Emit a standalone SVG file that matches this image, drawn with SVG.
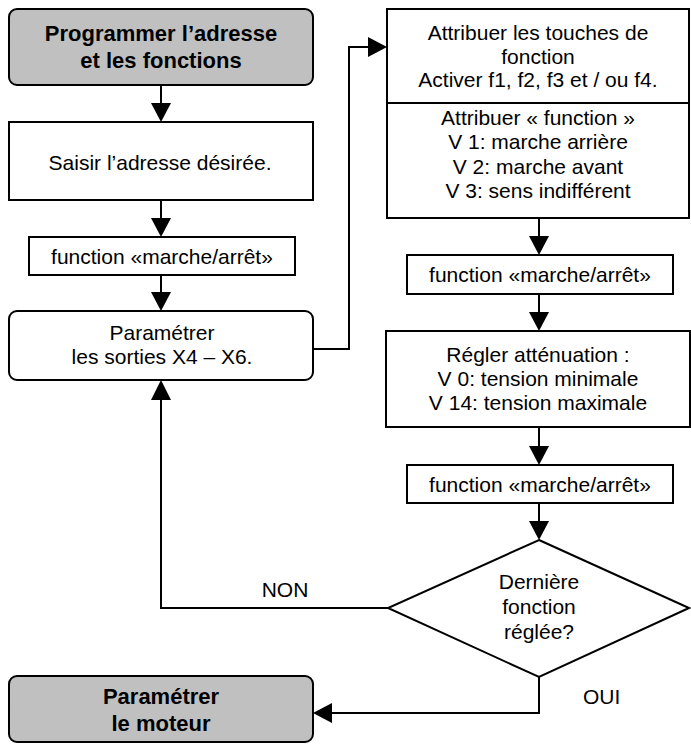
<svg xmlns="http://www.w3.org/2000/svg" width="691" height="746" viewBox="0 0 691 746">
<style>
.box{fill:#fff;stroke:#000;stroke-width:2}
.term{fill:#c0c0c0;stroke:#000;stroke-width:2}
.t{font-family:"Liberation Sans",Arial,sans-serif;font-size:21px;fill:#000;text-anchor:middle}
.b{font-weight:bold;font-size:22px}
.l{text-anchor:start}
.c{fill:none;stroke:#000;stroke-width:2}
.ah{fill:#000}
</style>
<g id="n1">
<rect class="term" x="9" y="9" width="304" height="76" rx="8"/>
<text class="t b" x="161" y="41">Programmer l’adresse</text>
<text class="t b" x="161" y="68">et les fonctions</text>
</g>
<g id="n2">
<rect class="box" x="9" y="122" width="304" height="78"/>
<text class="t" x="160" y="170">Saisir l’adresse désirée.</text>
</g>
<g id="n3">
<rect class="box" x="29" y="237" width="266" height="38"/>
<text class="t" x="162" y="264">function «marche/arrêt»</text>
</g>
<g id="n4">
<rect class="box" x="9" y="311" width="304" height="69" rx="8"/>
<text class="t" x="162" y="340">Paramétrer</text>
<text class="t" x="162" y="364">les sorties X4 – X6.</text>
</g>
<g id="n5">
<rect class="box" x="387" y="9" width="302" height="209"/>
<line class="c" x1="387" y1="103" x2="689" y2="103"/>
<text class="t" x="538" y="40">Attribuer les touches de</text>
<text class="t" x="538" y="63.5">fonction</text>
<text class="t" x="538" y="87">Activer f1, f2, f3 et / ou f4.</text>
<text class="t" x="538" y="125">Attribuer « function »</text>
<text class="t" x="538" y="149">V 1: marche arrière</text>
<text class="t" x="538" y="174">V 2: marche avant</text>
<text class="t" x="538" y="198">V 3: sens indifférent</text>
</g>
<g id="n6">
<rect class="box" x="407" y="255" width="266" height="39"/>
<text class="t" x="540" y="282">function «marche/arrêt»</text>
</g>
<g id="n7">
<rect class="box" x="386" y="331" width="304" height="96"/>
<text class="t" x="538" y="362">Régler atténuation :</text>
<text class="t" x="538" y="386">V 0: tension minimale</text>
<text class="t" x="538" y="410">V 14: tension maximale</text>
</g>
<g id="n8">
<rect class="box" x="407" y="465" width="266" height="38"/>
<text class="t" x="540" y="492">function «marche/arrêt»</text>
</g>
<g id="n9">
<polygon class="box" points="539,540 689,608 539,677 388,608"/>
<text class="t" x="539" y="589">Dernière</text>
<text class="t" x="539" y="614">fonction</text>
<text class="t" x="539" y="639">réglée?</text>
</g>
<g id="n10">
<rect class="term" x="9" y="676" width="304" height="66" rx="8"/>
<text class="t b" x="161" y="704">Paramétrer</text>
<text class="t b" x="161" y="731">le moteur</text>
</g>
<g id="connectors">
<line class="c" x1="161" y1="85" x2="161" y2="104"/>
<polygon class="ah" points="151,103 171,103 161,122"/>
<line class="c" x1="161" y1="200" x2="161" y2="219"/>
<polygon class="ah" points="151,218 171,218 161,237"/>
<line class="c" x1="161" y1="275" x2="161" y2="293"/>
<polygon class="ah" points="151,292 171,292 161,311"/>
<polyline class="c" points="313,349 349,349 349,47 369,47"/>
<polygon class="ah" points="368,37 368,57 387,47"/>
<line class="c" x1="539" y1="218" x2="539" y2="237"/>
<polygon class="ah" points="529,236 549,236 539,255"/>
<line class="c" x1="539" y1="294" x2="539" y2="313"/>
<polygon class="ah" points="529,312 549,312 539,331"/>
<line class="c" x1="539" y1="427" x2="539" y2="447"/>
<polygon class="ah" points="529,446 549,446 539,465"/>
<line class="c" x1="539" y1="503" x2="539" y2="522"/>
<polygon class="ah" points="529,521 549,521 539,540"/>
<polyline class="c" points="388,608 161,608 161,399"/>
<polygon class="ah" points="151,400 171,400 161,380"/>
<polyline class="c" points="539,677 539,713 331,713"/>
<polygon class="ah" points="332,703 332,723 313,713"/>
<text class="t" x="285" y="597">NON</text>
<text class="t l" x="583" y="704">OUI</text>
</g>
</svg>
